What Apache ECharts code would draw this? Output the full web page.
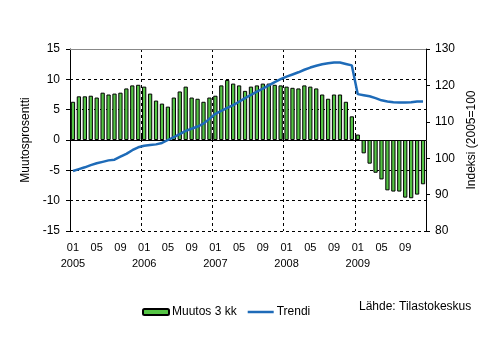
<!DOCTYPE html>
<html>
<head>
<meta charset="utf-8">
<script src="https://cdn.jsdelivr.net/npm/echarts@6/dist/echarts.min.js"></script>
<style>
html,body{margin:0;padding:0;background:#fff;}
#chart{width:495px;height:340px;}
</style>
</head>
<body>
<div id="chart"></div>
<script>
// Months 2005-01 .. 2009-12
const years = ['2005','2006','2007','2008','2009'];
const monthLabels = ['01','02','03','04','05','06','07','08','09','10','11','12'];

// Muutos 3 kk (left axis, %)
const muutos3kk = [
  6.3, 7.2, 7.2, 7.3, 7.0, 7.8, 7.5, 7.65, 7.8, 8.5, 9.0, 9.1,
  8.8, 7.65, 6.5, 6.0, 5.5, 7.0, 8.0, 8.8, 7.0, 6.8, 6.3, 7.0,
  7.3, 9.0, 9.9, 9.3, 9.0, 8.1, 8.8, 9.0, 9.3, 9.3, 9.1, 9.0,
  8.8, 8.6, 8.5, 9.0, 8.8, 8.5, 7.5, 6.8, 7.5, 7.5, 6.3, 3.9,
  0.9, -2.2, -3.9, -5.4, -6.5, -8.3, -8.5, -8.5, -9.5, -9.6, -9.0, -7.3
];

// Trendi (right axis, index 2005=100)
const trendi = [
  96.5, 97.0, 97.5, 98.1, 98.6, 99.0, 99.4, 99.6, 100.4, 101.2, 102.2, 103.0,
  103.4, 103.6, 103.8, 104.2, 105.0, 105.8, 106.6, 107.5, 108.1, 108.7, 109.5, 110.8,
  112.2, 113.0, 113.8, 114.6, 115.5, 116.5, 117.4, 118.3, 119.1, 120.0, 120.9, 121.7,
  122.4, 123.0, 123.6, 124.3, 124.9, 125.4, 125.8, 126.1, 126.3, 126.3, 125.9, 125.5,
  117.6, 117.3, 117.0, 116.5, 115.9, 115.6, 115.4, 115.3, 115.3, 115.4, 115.6, 115.6
];

const categories = [];
years.forEach(y => monthLabels.forEach(m => categories.push(m + (m === '01' ? '\n' + y : ''))));

const chart = echarts.init(document.getElementById('chart'), null, {renderer: 'canvas'});
const font = 'Liberation Sans, Arial, sans-serif';

chart.setOption({
  animation: false,
  backgroundColor: '#fff',
  textStyle: {fontFamily: font},
  grid: {left: 70, right: 69, top: 49, bottom: 109},
  legend: {
    data: [
      {name: 'Muutos 3 kk'},
      {name: 'Trendi', icon: 'path://M0,0L26,0L26,2.5L0,2.5Z'}
    ],
    left: 137, top: 301,
    itemWidth: 26, itemHeight: 6, itemGap: 11,
    symbolKeepAspect: true,
    textStyle: {fontSize: 12, color: '#000', fontFamily: font, padding: [0, 0, 0, -2]},
    selectedMode: false
  },
  graphic: [{
    type: 'text', left: 359, top: 301,
    style: {text: 'Lähde: Tilastokeskus', fontSize: 12, fill: '#000', fontFamily: font}
  }],
  xAxis: {
    type: 'category',
    data: categories,
    boundaryGap: true,
    axisLine: {show: true, lineStyle: {color: '#888', width: 1}},
    axisTick: {show: true, inside: true, length: 4, interval: 11, lineStyle: {color: '#000'}},
    axisLabel: {
      interval: 3, color: '#000', fontSize: 11, margin: 9, lineHeight: 16,
      formatter: v => v
    },
    splitLine: {show: true, interval: 11, lineStyle: {color: '#000', type: [3, 3], width: 1}}
  },
  yAxis: [{
    type: 'value', min: -15, max: 15, interval: 5,
    name: 'Muutosprosentti', nameLocation: 'middle', nameGap: 37, nameRotate: 90,
    nameTextStyle: {fontSize: 12, color: '#000'},
    axisLine: {show: true, lineStyle: {color: '#000', width: 1}},
    axisTick: {show: true, length: 4, lineStyle: {color: '#000'}},
    axisLabel: {color: '#000', fontSize: 12, margin: 10},
    splitLine: {show: true, lineStyle: {color: '#000', type: [3, 3], width: 1}}
  }, {
    type: 'value', min: 80, max: 130, interval: 10, position: 'right',
    name: 'Indeksi (2005=100', nameLocation: 'middle', nameGap: 38, nameRotate: 90,
    nameTextStyle: {fontSize: 12, color: '#000'},
    axisLine: {show: true, lineStyle: {color: '#000', width: 1}},
    axisTick: {show: true, length: 4, lineStyle: {color: '#000'}},
    axisLabel: {color: '#000', fontSize: 12, margin: 9},
    splitLine: {show: false}
  }],
  series: [{
    name: 'Muutos 3 kk',
    type: 'bar',
    yAxisIndex: 0,
    data: muutos3kk,
    barWidth: '72%',
    itemStyle: {color: '#55C545', borderColor: '#000', borderWidth: 1},
    markLine: {
      silent: true, symbol: 'none', label: {show: false},
      data: [
        {yAxis: 0, lineStyle: {color: '#000', type: 'solid', width: 1}},
        {yAxis: 15, lineStyle: {color: '#888', type: 'solid', width: 1}}
      ]
    }
  }, {
    name: 'Trendi',
    type: 'line',
    yAxisIndex: 1,
    data: trendi,
    symbol: 'none',
    lineStyle: {color: '#1E6BB8', width: 2.5},
    itemStyle: {color: '#1E6BB8'},
    z: 5
  }]
});
</script>
</body>
</html>
